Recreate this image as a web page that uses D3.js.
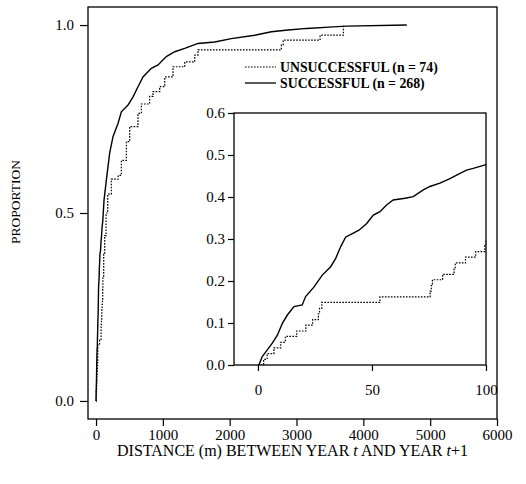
<!DOCTYPE html>
<html>
<head>
<meta charset="utf-8">
<script src="https://cdn.jsdelivr.net/npm/d3@7"></script>
<style>
  html, body { margin: 0; padding: 0; background: #fff; }
  svg { display: block; font-family: "Liberation Serif", "Times New Roman", serif; }
</style>
</head>
<body>
<svg id="chart" width="526" height="484"></svg>
<script>
// ---------- data ----------
const seriesNames = ["UNSUCCESSFUL (n = 74)", "SUCCESSFUL (n = 268)"];

// Successful (solid), cumulative proportion vs distance (m)
const successDist = [0, 0.4, 1.9, 4.1, 6.3, 8.5, 10.7, 12.9, 15.8, 19.4, 20.9, 24.6, 28.2, 31.9, 34.1, 36.3, 38.5, 41.4, 44.3, 47.7, 50.6, 53.5, 56.4, 59.3, 64.5, 68.1, 72.5, 75.4, 79.8, 84.2, 88.6, 91.5, 94.4, 100,
  105, 120, 155, 204, 254, 329, 379, 479, 554, 628, 703, 828, 928, 1052, 1178, 1327, 1526, 1776, 2025, 2375, 2624, 2873, 3153, 3552, 3751, 4650];
const successProp = [0, 0, 0.020, 0.036, 0.052, 0.071, 0.099, 0.119, 0.139, 0.143, 0.163, 0.186, 0.214, 0.234, 0.254, 0.282, 0.305, 0.313, 0.321, 0.337, 0.357, 0.365, 0.381, 0.393, 0.397, 0.401, 0.417, 0.425, 0.433, 0.444, 0.456, 0.464, 0.468, 0.477,
  0.49, 0.535, 0.588, 0.659, 0.703, 0.738, 0.769, 0.787, 0.809, 0.836, 0.862, 0.885, 0.894, 0.916, 0.929, 0.938, 0.951, 0.955, 0.964, 0.973, 0.982, 0.987, 0.991, 0.995, 0.997, 1.0];

// Unsuccessful (dotted), step function
const failDist = [0, 2.5, 4, 7, 10, 12, 17, 21, 24, 26.5, 27, 28, 53.5, 75.5, 76, 76.5, 81, 86, 86.5, 91, 95.5, 99.5, 100,
  103, 115, 130, 150, 175, 229, 330, 379, 454, 504, 628, 678, 803, 853, 953, 1028, 1152, 1327, 1477, 1526, 2773, 2800, 3353, 3702];
const failProp = [0, 0.0135, 0.027, 0.041, 0.054, 0.068, 0.081, 0.095, 0.108, 0.122, 0.135, 0.149, 0.162, 0.176, 0.189, 0.203, 0.216, 0.230, 0.243, 0.257, 0.270, 0.284, 0.297,
  0.33, 0.39, 0.44, 0.50, 0.55, 0.59, 0.60, 0.64, 0.69, 0.73, 0.765, 0.79, 0.81, 0.823, 0.836, 0.862, 0.889, 0.902, 0.920, 0.934, 0.947, 0.960, 0.973, 1.0];

const mainXTicks = [0, 1000, 2000, 3000, 4000, 5000, 6000];
const mainYTicks = [0, 0.5, 1.0];
const insetXTicks = [0, 50, 100];
const insetYTicks = [0, 0.1, 0.2, 0.3, 0.4, 0.5, 0.6];

// ---------- layout ----------
const svg = d3.select("#chart");
const succ = successDist.map((d, i) => [d, successProp[i]]);
const fail = failDist.map((d, i) => [d, failProp[i]]);

const M = { left: 88, right: 497, top: 7, bottom: 419 };
const x = d3.scaleLinear().domain([-120, 6000]).range([M.left, M.right]);
const y = d3.scaleLinear().domain([-0.048, 1.048]).range([M.bottom, M.top]);

const fontSize = 15;

// main frame
svg.append("rect")
  .attr("x", M.left).attr("y", M.top)
  .attr("width", M.right - M.left).attr("height", M.bottom - M.top)
  .attr("fill", "none").attr("stroke", "#000").attr("stroke-width", 1.3);

// main axes
const gy = svg.append("g").attr("transform", `translate(${M.left},0)`)
  .call(d3.axisLeft(y).tickValues(mainYTicks).tickFormat(d3.format(".1f")).tickSize(8).tickPadding(6));
const gx = svg.append("g").attr("transform", `translate(0,${M.bottom})`)
  .call(d3.axisBottom(x).tickValues(mainXTicks).tickFormat(d3.format("d")).tickSize(7).tickPadding(3));
[gx, gy].forEach(g => {
  g.select(".domain").remove();
  g.selectAll("line").attr("stroke", "#000").attr("stroke-width", 1.2);
  g.selectAll("text").attr("font-family", "Liberation Serif").attr("font-size", fontSize).attr("fill", "#000");
});

// main lines
const lineMainS = d3.line().x(d => x(d[0])).y(d => y(d[1])).curve(d3.curveLinear);
const lineMainF = d3.line().x(d => x(d[0])).y(d => y(d[1])).curve(d3.curveStepAfter);
svg.append("path").attr("d", lineMainF(fail)).attr("fill", "none")
  .attr("stroke", "#000").attr("stroke-width", 1.2).attr("stroke-dasharray", "1.6,1.4");
svg.append("path").attr("d", lineMainS(succ)).attr("fill", "none")
  .attr("stroke", "#000").attr("stroke-width", 1.4);

// axis titles
svg.append("text")
  .attr("x", (M.left + M.right) / 2).attr("y", 456)
  .attr("text-anchor", "middle").attr("font-size", 16)
  .call(t => {
    t.append("tspan").text("DISTANCE (m) BETWEEN YEAR ");
    t.append("tspan").attr("font-style", "italic").text("t");
    t.append("tspan").text(" AND YEAR ");
    t.append("tspan").attr("font-style", "italic").text("t");
    t.append("tspan").text("+1");
  });
svg.append("text")
  .attr("transform", "translate(20,202) rotate(-90)")
  .attr("text-anchor", "middle").attr("font-size", 13.5)
  .text("PROPORTION");

// legend
const legend = [
  { name: seriesNames[0], dash: "1.6,1.4", y: 67 },
  { name: seriesNames[1], dash: null, y: 83 }
];
legend.forEach(l => {
  svg.append("line").attr("x1", 245).attr("x2", 276).attr("y1", l.y).attr("y2", l.y)
    .attr("stroke", "#000").attr("stroke-width", l.dash ? 1.1 : 1.3)
    .attr("stroke-dasharray", l.dash);
  svg.append("text").attr("x", 280).attr("y", l.y + 5)
    .attr("font-size", 13.8).attr("font-weight", "bold").text(l.name);
});

// ---------- inset ----------
const I = { left: 234, right: 486, top: 113, bottom: 365 };
const xi = d3.scaleLinear().domain([-10.5, 100]).range([I.left, I.right]);
const yi = d3.scaleLinear().domain([0, 0.6]).range([I.bottom, I.top]);

svg.append("rect")
  .attr("x", I.left).attr("y", I.top)
  .attr("width", I.right - I.left).attr("height", I.bottom - I.top)
  .attr("fill", "#fff").attr("stroke", "none");

svg.append("clipPath").attr("id", "insetClip").append("rect")
  .attr("x", I.left).attr("y", I.top)
  .attr("width", I.right - I.left + 0.5).attr("height", I.bottom - I.top);

const lineInS = d3.line().x(d => xi(d[0])).y(d => yi(d[1])).curve(d3.curveLinear);
const lineInF = d3.line().x(d => xi(d[0])).y(d => yi(d[1])).curve(d3.curveStepAfter);
const gi = svg.append("g").attr("clip-path", "url(#insetClip)");
gi.append("path").attr("d", lineInF(fail)).attr("fill", "none")
  .attr("stroke", "#000").attr("stroke-width", 1.2).attr("stroke-dasharray", "1.6,1.4");
gi.append("path").attr("d", lineInS(succ)).attr("fill", "none")
  .attr("stroke", "#000").attr("stroke-width", 1.4);

svg.append("rect")
  .attr("x", I.left).attr("y", I.top)
  .attr("width", I.right - I.left).attr("height", I.bottom - I.top)
  .attr("fill", "none").attr("stroke", "#000").attr("stroke-width", 1.3);

const giy = svg.append("g").attr("transform", `translate(${I.left},0)`)
  .call(d3.axisLeft(yi).tickValues(insetYTicks).tickFormat(d3.format(".1f")).tickSize(6).tickPadding(3));
const gix = svg.append("g").attr("transform", `translate(0,${I.bottom})`)
  .call(d3.axisBottom(xi).tickValues(insetXTicks).tickFormat(d3.format("d")).tickSize(6).tickPadding(13));
[gix, giy].forEach(g => {
  g.select(".domain").remove();
  g.selectAll("line").attr("stroke", "#000").attr("stroke-width", 1.2);
  g.selectAll("text").attr("font-family", "Liberation Serif").attr("font-size", fontSize).attr("fill", "#000");
});
</script>
</body>
</html>
